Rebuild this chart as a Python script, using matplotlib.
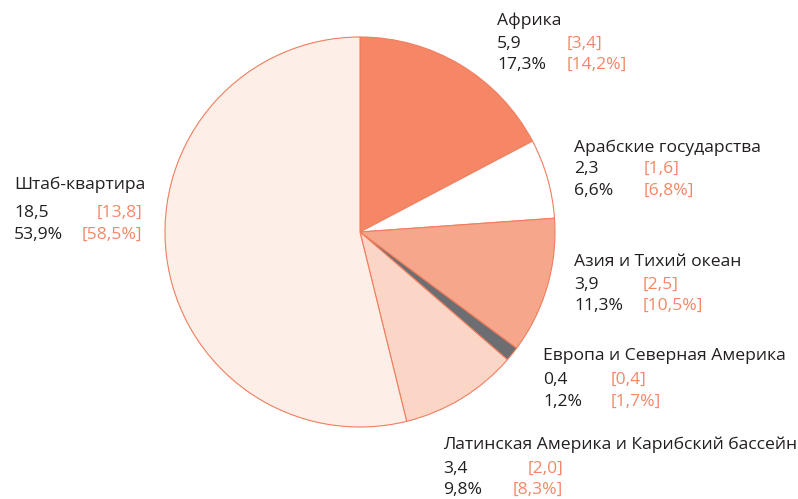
import matplotlib.pyplot as plt

plt.rcParams['font.family'] = ['Open Sans', 'DejaVu Sans']

# data
regions = ['Африка', 'Арабские государства', 'Азия и Тихий океан',
           'Европа и Северная Америка', 'Латинская Америка и Карибский бассейн',
           'Штаб-квартира']
values = ['5,9', '2,3', '3,9', '0,4', '3,4', '18,5']
shares = [17.3, 6.6, 11.3, 1.2, 9.8, 53.9]
prev_values = ['[3,4]', '[1,6]', '[2,5]', '[0,4]', '[2,0]', '[13,8]']
prev_shares = ['[14,2%]', '[6,8%]', '[10,5%]', '[1,7%]', '[8,3%]', '[58,5%]']

colors = ['#F58767', '#FFFFFF', '#F6A68A', '#6D6E71', '#FBD6C6', '#FDEEE7']
dark = '#231F20'
orange = '#F58767'

W, H = 798, 499
fig = plt.figure(figsize=(W / 100, H / 100), dpi=100)
ax = fig.add_axes([0, 0, 1, 1])

ax.pie(shares, colors=colors, startangle=90, counterclock=False,
       center=(360, H - 232), radius=195,
       wedgeprops={'edgecolor': '#F07E5E', 'linewidth': 0.8})

# pie() changes the limits, so set them afterwards
ax.set_xlim(0, W)
ax.set_ylim(0, H)
ax.set_aspect('equal')
ax.axis('off')

# label layout in pixels: x of label, x of bracket, alignment of bracket, y of 3 lines
layout = [
    (497, 567, 'left', (21, 44, 65)),
    (574, 644, 'left', (148, 169, 191)),
    (574, 643, 'left', (262, 285, 306)),
    (543, 611, 'left', (356, 380, 402)),
    (443, 563, 'right', (445, 469, 490)),
    (14, 142, 'right', (185, 213, 235)),
]

fs = 12.6
for i, (x, xb, ha, ys) in enumerate(layout):
    ax.text(x, H - ys[0], regions[i], fontsize=fs, color=dark, va='center')
    ax.text(x, H - ys[1], values[i], fontsize=fs, color=dark, va='center')
    ax.text(x, H - ys[2], ('%.1f%%' % shares[i]).replace('.', ','),
            fontsize=fs, color=dark, va='center')
    ax.text(xb, H - ys[1], prev_values[i], fontsize=fs, color=orange, va='center', ha=ha)
    ax.text(xb, H - ys[2], prev_shares[i], fontsize=fs, color=orange, va='center', ha=ha)

fig.savefig('out.png', dpi=100)
